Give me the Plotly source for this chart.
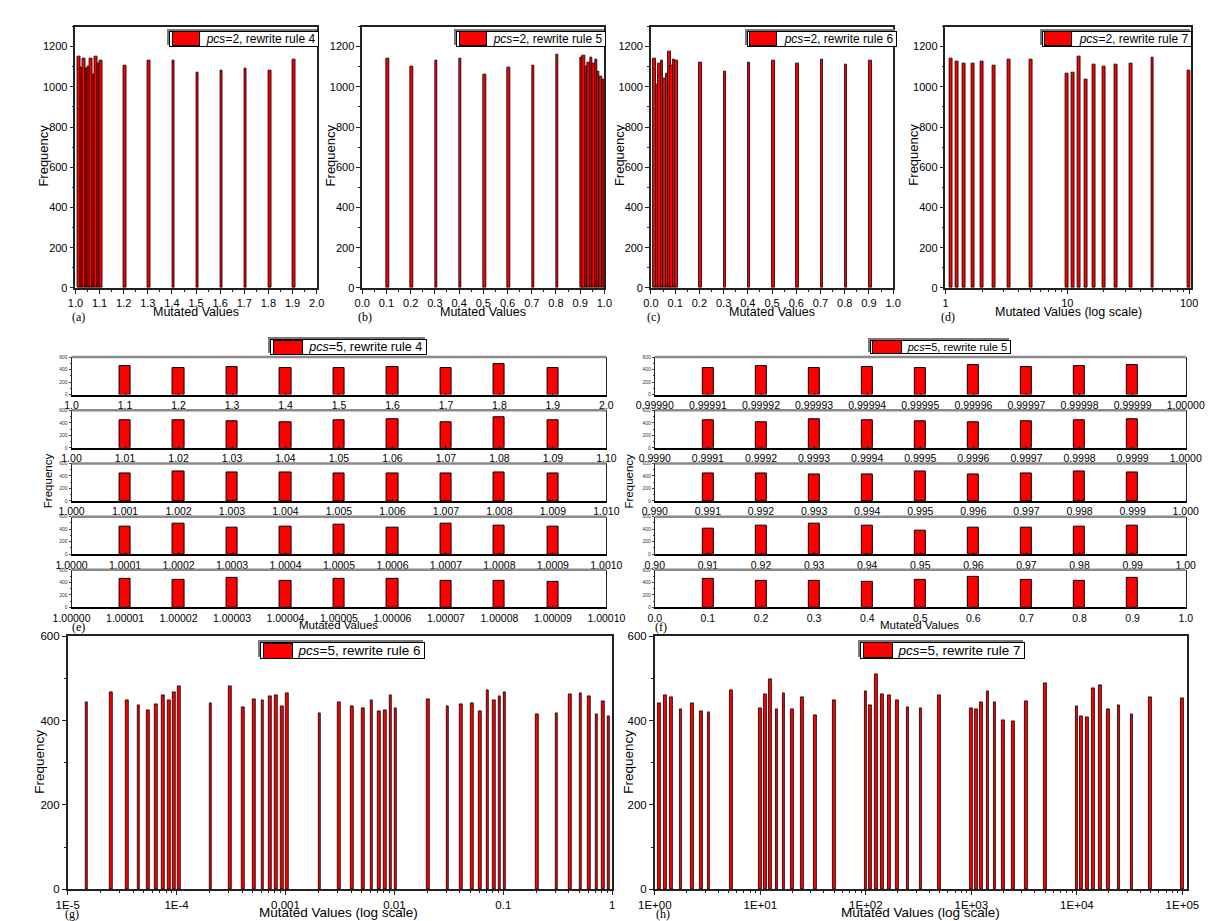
import plotly.graph_objects as go

W, H = 1220, 921
FONT = "Liberation Sans, Arial, sans-serif"
SERIF = "Liberation Serif, Times New Roman, serif"
RED = "#ff0000"

# ---------------- data ----------------
# (a) pcs=2, rewrite rule 4
a_values = [1.01, 1.02, 1.03, 1.04, 1.05, 1.06, 1.07, 1.08, 1.09, 1.10,
            1.2, 1.3, 1.4, 1.5, 1.6, 1.7, 1.8, 1.9]
a_freq = [1151, 1095, 1139, 1090, 1099, 1143, 1061, 1152, 1118, 1133,
          1105, 1133, 1130, 1071, 1081, 1089, 1079, 1138]
# (b) pcs=2, rewrite rule 5
b_values = [0.1, 0.2, 0.3, 0.4, 0.5, 0.6, 0.7, 0.8,
            0.90, 0.91, 0.92, 0.93, 0.94, 0.95, 0.96, 0.97, 0.98, 0.99]
b_freq = [1139, 1100, 1130, 1139, 1061, 1095, 1108, 1162,
          1144, 1157, 1100, 1120, 1144, 1118, 1134, 1074, 1051, 1035]
# (c) pcs=2, rewrite rule 6
c_values = [0.01, 0.02, 0.03, 0.04, 0.05, 0.06, 0.07, 0.08, 0.09, 0.10,
            0.2, 0.3, 0.4, 0.5, 0.6, 0.7, 0.8, 0.9]
c_freq = [1143, 1014, 1118, 1132, 1040, 1064, 1177, 1105, 1138, 1133,
          1122, 1074, 1123, 1133, 1118, 1134, 1110, 1133]
# (d) pcs=2, rewrite rule 7
d_values = [1.11, 1.25, 1.43, 1.67, 2.0, 2.5, 3.33, 5.0,
            10.0, 11.1, 12.5, 14.3, 16.7, 20.0, 25.0, 33.3, 50.0, 100.0]
d_freq = [1140, 1127, 1116, 1116, 1124, 1107, 1138, 1138,
          1065, 1073, 1151, 1036, 1111, 1099, 1111, 1114, 1148, 1081]

# (e) pcs=5, rewrite rule 4 (five zoom levels)
e1_values = [1.1, 1.2, 1.3, 1.4, 1.5, 1.6, 1.7, 1.8, 1.9]
e1_freq = [453, 432, 437, 421, 432, 447, 432, 489, 432]
e2_values = [1.01, 1.02, 1.03, 1.04, 1.05, 1.06, 1.07, 1.08, 1.09]
e2_freq = [445, 433, 423, 413, 434, 460, 402, 481, 444]
e3_values = [1.001, 1.002, 1.003, 1.004, 1.005, 1.006, 1.007, 1.008, 1.009]
e3_freq = [436, 473, 462, 452, 441, 436, 436, 452, 441]
e4_values = [1.0001, 1.0002, 1.0003, 1.0004, 1.0005, 1.0006, 1.0007, 1.0008, 1.0009]
e4_freq = [440, 492, 430, 435, 471, 425, 482, 456, 435]
e5_values = [1.00001, 1.00002, 1.00003, 1.00004, 1.00005, 1.00006, 1.00007, 1.00008, 1.00009]
e5_freq = [463, 441, 473, 431, 457, 463, 420, 426, 410]

# (f) pcs=5, rewrite rule 5 (five zoom levels)
f1_values = [0.99991, 0.99992, 0.99993, 0.99994, 0.99995, 0.99996, 0.99997, 0.99998, 0.99999]
f1_freq = [421, 453, 432, 447, 432, 479, 447, 453, 479]
f2_values = [0.9991, 0.9992, 0.9993, 0.9994, 0.9995, 0.9996, 0.9997, 0.9998, 0.9999]
f2_freq = [444, 407, 462, 447, 430, 407, 418, 439, 455]
f3_values = [0.991, 0.992, 0.993, 0.994, 0.995, 0.996, 0.997, 0.998, 0.999]
f3_freq = [447, 447, 425, 430, 473, 430, 447, 473, 452]
f4_values = [0.91, 0.92, 0.93, 0.94, 0.95, 0.96, 0.97, 0.98, 0.99]
f4_freq = [414, 460, 491, 460, 378, 430, 430, 445, 460]
f5_values = [0.1, 0.2, 0.3, 0.4, 0.5, 0.6, 0.7, 0.8, 0.9]
f5_freq = [463, 420, 431, 404, 446, 488, 446, 431, 478]

# (g) pcs=5, rewrite rule 6
g_values = [1.45e-5, 2.45e-5, 3.4e-5, 4.35e-5, 5.35e-5, 6.3e-5, 7.3e-5, 8.25e-5, 9.2e-5, 1.03e-4,
            2e-4, 3e-4, 4e-4, 5e-4, 6e-4, 7e-4, 8e-4, 9e-4, 1e-3,
            2e-3, 3e-3, 4e-3, 5e-3, 6e-3, 7e-3, 8e-3, 9e-3, 1e-2,
            0.02, 0.03, 0.04, 0.05, 0.06, 0.07, 0.08, 0.09, 0.1,
            0.2, 0.3, 0.4, 0.5, 0.6, 0.7, 0.8, 0.9]
g_freq = [443, 467, 448, 436, 425, 439, 460, 449, 468, 482,
          440, 481, 431, 450, 449, 457, 461, 435, 464,
          418, 443, 435, 430, 449, 423, 425, 461, 430,
          450, 433, 438, 440, 422, 472, 449, 458, 467,
          414, 418, 463, 465, 457, 415, 447, 411]

# (h) pcs=5, rewrite rule 7
h_values = [1.11, 1.25, 1.43, 1.76, 2.26, 2.77, 3.26, 5.28,
            10, 11.1, 12.5, 14.3, 16.7, 20, 25, 33.3, 50,
            100, 111, 125, 143, 167, 200, 250, 333, 500,
            1000, 1110, 1250, 1430, 1670, 2000, 2500, 3330, 5000,
            10000, 11100, 12500, 14300, 16700, 20000, 25000, 33300, 50000, 100000]
h_freq = [440, 460, 456, 427, 442, 423, 420, 472,
          430, 462, 497, 427, 464, 427, 456, 413, 448,
          469, 436, 511, 463, 459, 449, 432, 429, 459,
          429, 428, 444, 469, 443, 401, 399, 446, 488,
          434, 411, 407, 476, 484, 426, 436, 414, 456, 453]

legend_names = {
    "a": "<i>pcs</i>=2, rewrite rule 4",
    "b": "<i>pcs</i>=2, rewrite rule 5",
    "c": "<i>pcs</i>=2, rewrite rule 6",
    "d": "<i>pcs</i>=2, rewrite rule 7",
    "e": "<i>pcs</i>=5, rewrite rule 4",
    "f": "<i>pcs</i>=5, rewrite rule 5",
    "g": "<i>pcs</i>=5, rewrite rule 6",
    "h": "<i>pcs</i>=5, rewrite rule 7",
}

# ---------------- helpers ----------------
fig = go.Figure()
layout = {}
annotations = []
shapes = []
counter = [0]


def new_axes(xpx, ypx, xcfg, ycfg):
    counter[0] += 1
    n = counter[0]
    suf = "" if n == 1 else str(n)
    xr, yr = "x" + suf, "y" + suf
    xc, yc = dict(xcfg), dict(ycfg)
    xc.update(domain=[xpx[0] / W, xpx[1] / W], anchor=yr)
    yc.update(domain=[1 - ypx[1] / H, 1 - ypx[0] / H], anchor=xr)
    layout["xaxis" + suf] = xc
    layout["yaxis" + suf] = yc
    return xr, yr


def add_bars(xr, yr, values, freq, width, offset=None, name="", lw=1.0):
    kw = dict(x=values, y=freq, width=width, xaxis=xr, yaxis=yr,
              marker=dict(color=RED, line=dict(color="black", width=lw)),
              showlegend=False, name=name)
    if offset is not None:
        kw["offset"] = offset
    fig.add_trace(go.Bar(**kw))


def ann(text, xp, yp, size, family=FONT, angle=0, xanchor="center", **extra):
    d = dict(text=text, x=xp / W, y=1 - yp / H, xref="paper", yref="paper",
             showarrow=False, textangle=angle, xanchor=xanchor, yanchor="middle",
             font=dict(family=family, size=size, color=extra.pop("color", "black")))
    d.update(extra)
    annotations.append(d)


def legend_box(text, x_left, y_mid, size, sw=26):
    """Origin-style legend: shadowed box that fits its text, wide red swatch, label."""
    pad = "\u00a0" * int(round((sw + 10) / (0.278 * size)))
    label = pad + text + "\u00a0"
    ann(label, x_left, y_mid, size, xanchor="left", color="rgba(0,0,0,0)",
        bgcolor="#7a7a7a", bordercolor="#7a7a7a", borderwidth=1, borderpad=0,
        xshift=-2, yshift=2)
    ann(label, x_left, y_mid, size, xanchor="left",
        bgcolor="white", bordercolor="black", borderwidth=1, borderpad=0)
    ann("", x_left + 2.5, y_mid, 4, xanchor="left", width=sw, height=size * 1.05,
        bgcolor=RED, bordercolor="black", borderwidth=1, borderpad=0)


def lin_ticks(lo, hi, n, dec):
    step = (hi - lo) / n
    vals = [lo + i * step for i in range(n + 1)]
    return vals, [f"{v:.{dec}f}" for v in vals]


AX_LINE = dict(showline=True, linecolor="#222", linewidth=1.5, mirror=True,
               showgrid=False, zeroline=False)

# ---------------- top row (a)-(d) ----------------
top_y = dict(AX_LINE, range=[0, 1300], tickvals=[0, 200, 400, 600, 800, 1000, 1200],
             ticks="outside", ticklen=4, tickcolor="#222",
             minor=dict(ticks="outside", ticklen=2, dtick=100, tick0=0, tickcolor="#222"),
             tickfont=dict(family=FONT, size=11, color="black"))
top_ypx = (12.7, 277.5)
top_panels = [
    ("a", (50, 299), a_values, a_freq, (1.0, 2.0), 147),
    ("b", (346, 596), b_values, b_freq, (0.0, 1.0), 443),
    ("c", (644, 894), c_values, c_freq, (0.0, 1.0), 743),
]
for key, xpx, vals, freq, (lo, hi), lx in top_panels:
    tv, tt = lin_ticks(lo, hi, 10, 1)
    xcfg = dict(AX_LINE, range=[lo, hi], tickvals=tv, ticktext=tt, ticks="outside", ticklen=4,
                tickcolor="#222",
                minor=dict(ticks="outside", ticklen=2, dtick=0.05, tick0=lo, tickcolor="#222"),
                tickfont=dict(family=FONT, size=11, color="black"))
    xr, yr = new_axes(xpx, top_ypx, xcfg, top_y)
    add_bars(xr, yr, vals, freq, 0.0105, offset=0, name=legend_names[key], lw=0.8)
    legend_box(legend_names[key], lx, 25, 12)
    ann("Frequency", xpx[0] - 33, 143, 13, angle=-90)
    ann("Mutated Values", (xpx[0] + xpx[1]) / 2, 302, 12.5)
    ann(f"({key})", xpx[0] + 3, 307, 12, family=SERIF)

# (d) log axis
d_xpx = (948, 1201)
minor_d = [k * 10 ** e for e in range(0, 2) for k in range(2, 10)]
xcfg = dict(AX_LINE, type="log", range=[0, 2.012], tickvals=[1, 10, 100], ticktext=["1", "10", "100"],
            ticks="outside", ticklen=4, tickcolor="#222",
            minor=dict(ticks="outside", ticklen=2, tickvals=minor_d, tickcolor="#222"),
            tickfont=dict(family=FONT, size=11, color="black"))
xr, yr = new_axes(d_xpx, top_ypx, xcfg, top_y)
add_bars(xr, yr, d_values, d_freq, [v * 0.055 for v in d_values], name=legend_names["d"], lw=0.8)
legend_box(legend_names["d"], 1047.5, 25, 12)
ann("Frequency", d_xpx[0] - 33, 143, 13, angle=-90)
ann("Mutated Values (log scale)", (d_xpx[0] + d_xpx[1]) / 2, 302, 12.5)
ann("(d)", d_xpx[0] + 3, 307, 12, family=SERIF)

# ---------------- middle strips (e), (f) ----------------
strip_y = dict(showline=True, linecolor="#222", linewidth=1, mirror=True,
               showgrid=False, zeroline=False, range=[0, 600], tickvals=[0, 200, 400, 600],
               ticks="outside", ticklen=2, tickcolor="#444",
               minor=dict(ticks="outside", ticklen=1, dtick=100, tick0=0, tickcolor="#444"),
               tickfont=dict(family=FONT, size=5, color="#333"))
strip_tops = [347.6 + 53.9 * i for i in range(5)]
strip_h = 38.0

e_strips = [
    (e1_values, e1_freq, 1.0, 2.0, 1),
    (e2_values, e2_freq, 1.00, 1.10, 2),
    (e3_values, e3_freq, 1.000, 1.010, 3),
    (e4_values, e4_freq, 1.0000, 1.0010, 4),
    (e5_values, e5_freq, 1.00000, 1.00010, 5),
]
f_strips = [
    (f1_values, f1_freq, 0.99990, 1.00000, 5),
    (f2_values, f2_freq, 0.9990, 1.0000, 4),
    (f3_values, f3_freq, 0.990, 1.000, 3),
    (f4_values, f4_freq, 0.90, 1.00, 2),
    (f5_values, f5_freq, 0.0, 1.0, 1),
]

for key, xpx, strips, lx, lsize, title_x, lab_x, freq_x in (
        ("e", (46, 598), e_strips, 251, 12.5, 321, 53, 22),
        ("f", (648, 1196), f_strips, 870, 11, 921, 654, 621)):
    for i, (vals, freq, lo, hi, dec) in enumerate(strips):
        tv, tt = lin_ticks(lo, hi, 10, dec)
        xcfg = dict(showline=True, linecolor="black", linewidth=1.5, mirror=False,
                    showgrid=False, zeroline=False, range=[lo, hi], tickvals=tv, ticktext=tt,
                    ticks="inside", ticklen=2, tickcolor="#222",
                    tickfont=dict(family=FONT, size=10.5, color="black"))
        ypx = (strip_tops[i], strip_tops[i] + strip_h)
        xr, yr = new_axes(xpx, ypx, xcfg, strip_y)
        add_bars(xr, yr, vals, freq, (hi - lo) * 0.021, name=legend_names[key])
        shapes.append(dict(type="line", xref=f"{xr} domain", yref=f"{yr} domain",
                           x0=0, x1=1, y0=1, y1=1, line=dict(color="#8a8a8a", width=2.5)))
    legend_box(legend_names[key], lx, 337.5, lsize, sw=28)
    ann("Frequency", freq_x, 473, 11.5, angle=-90)
    ann("Mutated Values", title_x, 619, 11.5)
    ann(f"({key})", lab_x, 621, 12, family=SERIF)

# ---------------- bottom row (g), (h) ----------------
bot_ypx = (630.5, 886.8)
bot_y = dict(AX_LINE, range=[0, 600], tickvals=[0, 200, 400, 600],
             ticks="outside", ticklen=4, tickcolor="#222",
             minor=dict(ticks="outside", ticklen=2, dtick=100, tick0=0, tickcolor="#222"),
             tickfont=dict(family=FONT, size=11.5, color="black"))

g_xpx = (42, 604)
minor_g = [k * 10.0 ** e for e in range(-5, 0) for k in range(2, 10)]
xcfg = dict(AX_LINE, type="log", range=[-5, 0],
            tickvals=[1e-5, 1e-4, 1e-3, 1e-2, 1e-1, 1],
            ticktext=["1E-5", "1E-4", "0.001", "0.01", "0.1", "1"],
            ticks="outside", ticklen=4, tickcolor="#222",
            minor=dict(ticks="outside", ticklen=2, tickvals=minor_g, tickcolor="#222"),
            tickfont=dict(family=FONT, size=11.5, color="black"))
xr, yr = new_axes(g_xpx, bot_ypx, xcfg, bot_y)
add_bars(xr, yr, g_values, g_freq, [v * 0.06 for v in g_values], offset=0,
         name=legend_names["g"], lw=0.8)
legend_box(legend_names["g"], 241, 645, 13.5, sw=28)
ann("Frequency", 12, 758, 13.5, angle=-90)
ann("Mutated Values (log scale)", 321, 910, 13.5)
ann("(g)", 46, 912, 12, family=SERIF)

h_xpx = (648, 1197)
minor_h = [k * 10.0 ** e for e in range(0, 5) for k in range(2, 10)]
xcfg = dict(AX_LINE, type="log", range=[0, 5.041],
            tickvals=[1, 10, 100, 1000, 10000, 100000],
            ticktext=["1E+00", "1E+01", "1E+02", "1E+03", "1E+04", "1E+05"],
            ticks="outside", ticklen=4, tickcolor="#222",
            minor=dict(ticks="outside", ticklen=2, tickvals=minor_h, tickcolor="#222"),
            tickfont=dict(family=FONT, size=11.5, color="black"))
xr, yr = new_axes(h_xpx, bot_ypx, xcfg, bot_y)
add_bars(xr, yr, h_values, h_freq, [v * 0.058 for v in h_values],
         name=legend_names["h"], lw=0.8)
legend_box(legend_names["h"], 860, 644.5, 13.5, sw=28)
ann("Frequency", 620, 758, 13.5, angle=-90)
ann("Mutated Values (log scale)", 922, 910, 13.5)
ann("(h)", 656, 912, 12, family=SERIF)

fig.update_layout(
    width=W, height=H, margin=dict(l=0, r=0, t=0, b=0),
    paper_bgcolor="white", plot_bgcolor="white",
    font=dict(family=FONT, color="black"),
    showlegend=False, bargap=0,
    annotations=annotations, shapes=shapes,
    **layout,
)

fig.write_html("out.html")
